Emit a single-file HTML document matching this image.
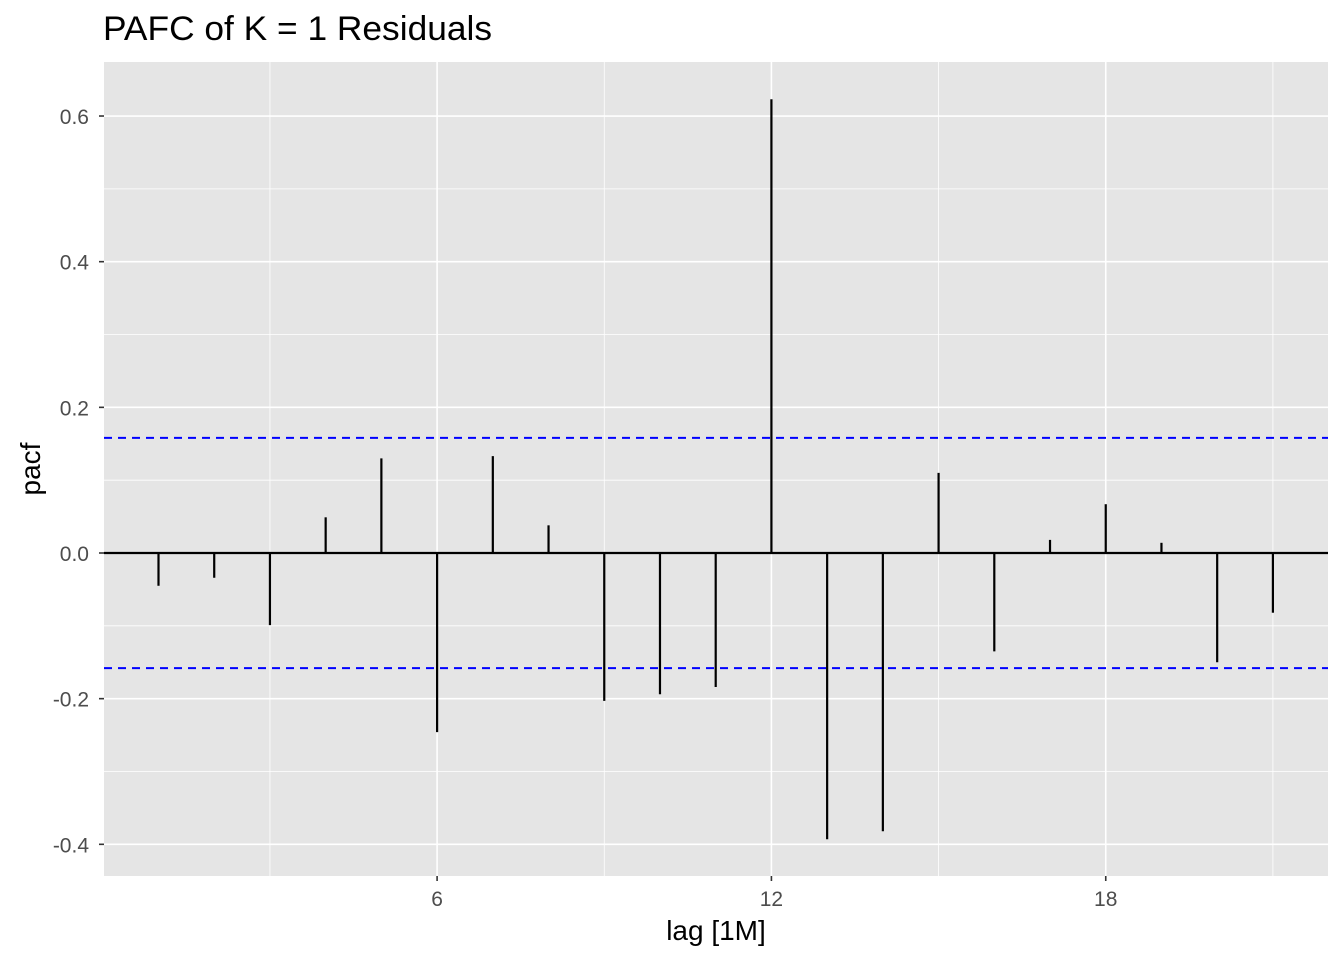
<!DOCTYPE html>
<html><head><meta charset="utf-8"><style>
body{margin:0;background:#fff;font-family:"Liberation Sans",Arial,sans-serif;}
</style></head><body>
<svg id="chart" width="1344" height="960" xmlns="http://www.w3.org/2000/svg">
<text x="103" y="40" font-size="34" textLength="389" lengthAdjust="spacingAndGlyphs" fill="#000">PAFC of K = 1 Residuals</text>
<rect x="104" y="62" width="1224" height="814" fill="#e5e5e5"/>
<g id="grid"></g>
<g id="marks"></g>
<g id="axes"></g>
<text x="716" y="940" font-size="28" text-anchor="middle" fill="#000">lag [1M]</text>
<text transform="translate(40,469) rotate(-90)" font-size="28" text-anchor="middle" fill="#000">pacf</text>
</svg>
<script>
const lags=[1,2,3,4,5,6,7,8,9,10,11,12,13,14,15,16,17,18,19,20,21];
const pacfValues=[-0.045,-0.034,-0.099,0.049,0.130,-0.246,0.133,0.038,-0.203,-0.194,-0.184,0.623,-0.393,-0.382,0.110,-0.135,0.018,0.067,0.014,-0.150,-0.082];
const ciBound=0.158;
const xTicks=[6,12,18];
const xMinor=[3,9,15,21];
const yTicks=[-0.4,-0.2,0.0,0.2,0.4,0.6];
const yTickLabels=["-0.4","-0.2","0.0","0.2","0.4","0.6"];
const yMinor=[-0.3,-0.1,0.1,0.3,0.5];
const NS="http://www.w3.org/2000/svg";
const L=104,R=1328,T=62,B=876;
const x=l=>158.5+(l-1)*55.72;
const y=v=>553-v*728.3;
function mk(tag,attrs,parent){const e=document.createElementNS(NS,tag);for(const k in attrs)e.setAttribute(k,attrs[k]);document.getElementById(parent).appendChild(e);return e;}
yMinor.forEach(v=>{const e=mk('line',{x1:L,x2:R,y1:y(v),y2:y(v),stroke:'#fff','stroke-width':0.8},'grid');

});
xMinor.forEach(v=>{const e=mk('line',{x1:x(v),x2:x(v),y1:T,y2:B,stroke:'#fff','stroke-width':0.8},'grid');

});
yTicks.forEach((v,i)=>{const e=mk('line',{x1:L,x2:R,y1:y(v),y2:y(v),stroke:'#fff','stroke-width':1.6},'grid');


const tk=mk('line',{x1:L-5,x2:L,y1:y(v),y2:y(v),stroke:'#333','stroke-width':1.6},'axes');


const t=mk('text',{x:89,y:y(v)+8,'font-size':21,'text-anchor':'end',fill:'#4d4d4d'},'axes');t.textContent=yTickLabels[i];

});
xTicks.forEach(v=>{const e=mk('line',{x1:x(v),x2:x(v),y1:T,y2:B,stroke:'#fff','stroke-width':1.6},'grid');


const tk=mk('line',{x1:x(v),x2:x(v),y1:B,y2:B+5,stroke:'#333','stroke-width':1.6},'axes');


const t=mk('text',{x:x(v),y:906,'font-size':21,'text-anchor':'middle',fill:'#4d4d4d'},'axes');t.textContent=v;

});
const z=mk('line',{x1:L,x2:R,y1:y(0),y2:y(0),stroke:'#000','stroke-width':2.2},'marks');


lags.forEach((l,i)=>{const e=mk('line',{x1:x(l),x2:x(l),y1:y(0),y2:y(pacfValues[i]),stroke:'#000','stroke-width':2.2},'marks');

});
[ciBound,-ciBound].forEach((v,i)=>{const e=mk('line',{x1:L,x2:R,y1:y(v),y2:y(v),stroke:'#0000ff','stroke-width':2,'stroke-dasharray':'8,6'},'marks');

});
</script>
</body></html>
